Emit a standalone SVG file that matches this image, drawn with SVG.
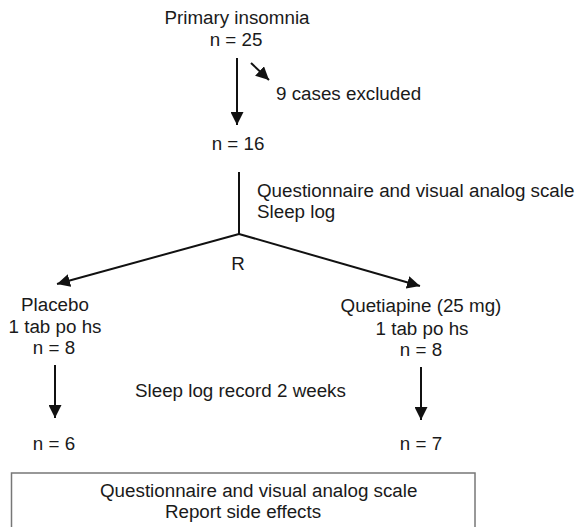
<svg xmlns="http://www.w3.org/2000/svg" width="578" height="527" viewBox="0 0 578 527">
<style>
text{font-family:"Liberation Sans",Arial,sans-serif;font-size:18.8px;fill:#1a1a1a}
.c{text-anchor:middle}
.ln{stroke:#111;stroke-width:2;fill:none}
.box{stroke:#777;stroke-width:1.5;fill:#fff}
</style>
<defs>
<marker id="ah" markerUnits="userSpaceOnUse" markerWidth="13" markerHeight="13" viewBox="0 0 13 13" refX="13" refY="6.5" orient="auto">
<path d="M0,0 L13,6.5 L0,13 Z" fill="#111"/>
</marker>
</defs>
<rect width="578" height="527" fill="#fff"/>
<g id="connectors">
<line class="ln" x1="237" y1="58" x2="237" y2="125" marker-end="url(#ah)"/>
<line class="ln" x1="251" y1="63" x2="269" y2="80" marker-end="url(#ah)"/>
<line class="ln" x1="239" y1="172" x2="239" y2="234"/>
<line class="ln" x1="239" y1="234" x2="57" y2="284" marker-end="url(#ah)"/>
<line class="ln" x1="239" y1="234" x2="420" y2="286" marker-end="url(#ah)"/>
<line class="ln" x1="55" y1="365" x2="55" y2="418" marker-end="url(#ah)"/>
<line class="ln" x1="421" y1="367" x2="421" y2="420" marker-end="url(#ah)"/>
</g>
<g id="start">
<text class="c" x="237" y="24">Primary insomnia</text>
<text class="c" x="236" y="46">n = 25</text>
</g>
<g id="excluded"><text x="276" y="100">9 cases excluded</text></g>
<g id="n16"><text class="c" x="238" y="150">n = 16</text></g>
<g id="baseline-assessment">
<text x="257" y="197">Questionnaire and visual analog scale</text>
<text x="257" y="218">Sleep log</text>
</g>
<g id="randomization"><text class="c" x="238" y="270">R</text></g>
<g id="placebo">
<text class="c" x="55" y="311">Placebo</text>
<text class="c" x="55" y="333">1 tab po hs</text>
<text class="c" x="54" y="354">n = 8</text>
</g>
<g id="quetiapine">
<text class="c" x="421" y="312">Quetiapine (25 mg)</text>
<text class="c" x="422" y="335">1 tab po hs</text>
<text class="c" x="421" y="356">n = 8</text>
</g>
<g id="sleep-log"><text x="135" y="397">Sleep log record 2 weeks</text></g>
<g id="placebo-end"><text class="c" x="54" y="450">n = 6</text></g>
<g id="quetiapine-end"><text class="c" x="421" y="450">n = 7</text></g>
<g id="final-assessment">
<rect class="box" x="11.5" y="473" width="463.5" height="70"/>
<text x="100" y="497">Questionnaire and visual analog scale</text>
<text class="c" x="243" y="518">Report side effects</text>
</g>
</svg>
